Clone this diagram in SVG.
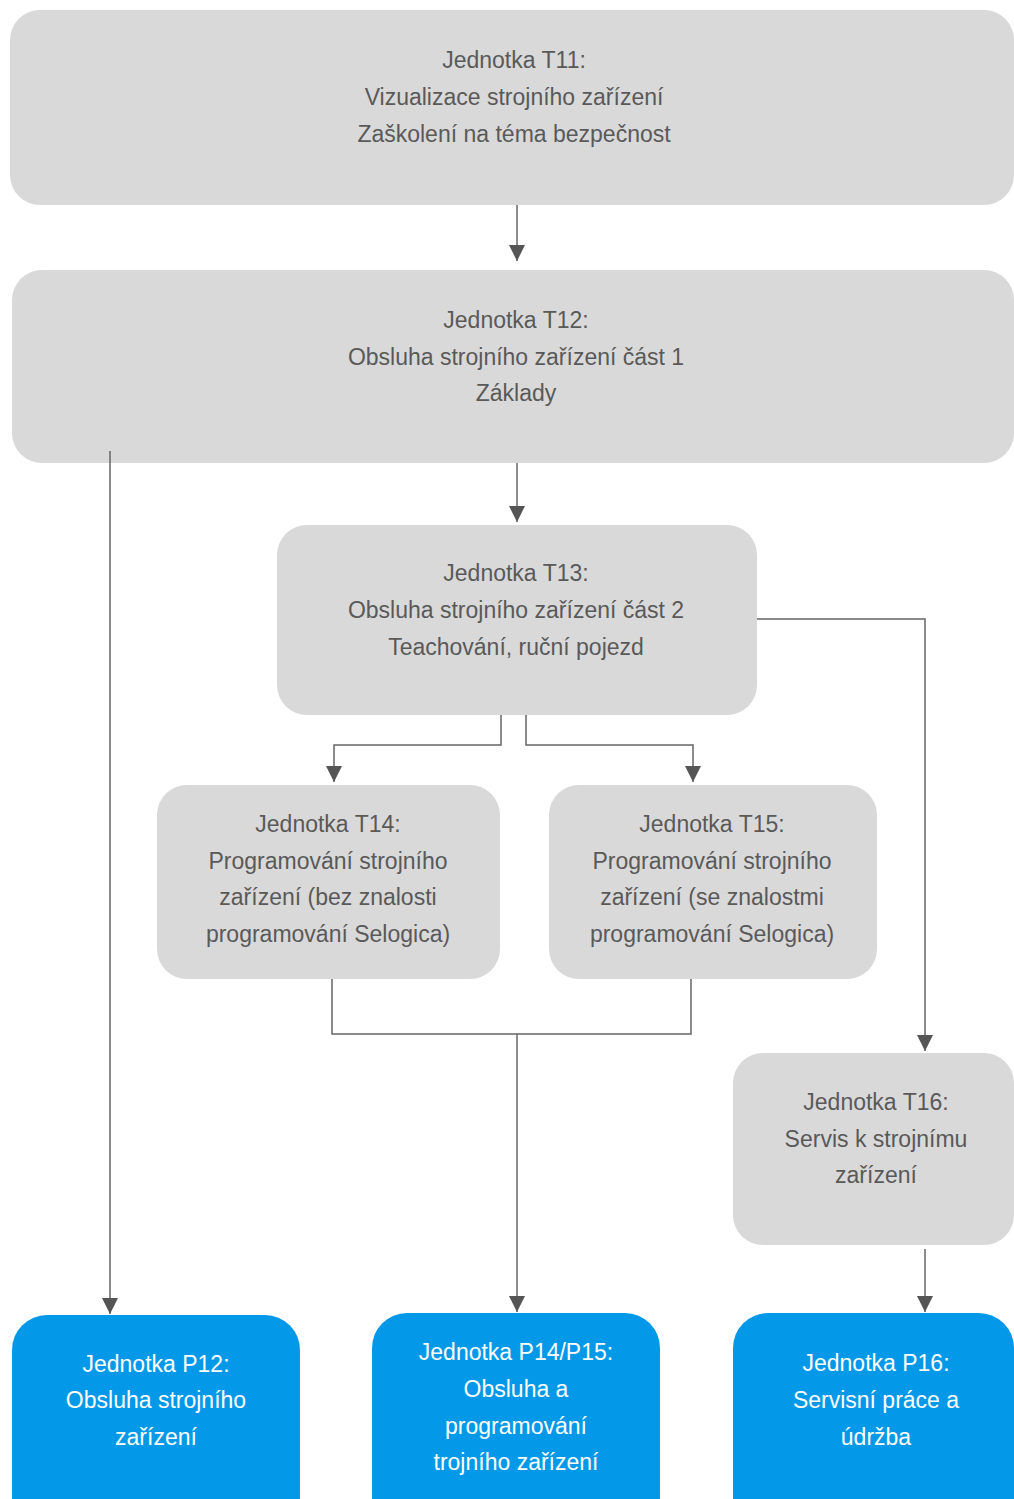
<svg xmlns="http://www.w3.org/2000/svg" width="1014" height="1499" viewBox="0 0 1014 1499">
<defs>
<style>
.g{fill:#d9d9d9}
.b{fill:#0399e8}
.t{font-family:"Liberation Sans",Arial,sans-serif;font-size:23px;text-anchor:middle;fill:#595959}
.w{fill:#ffffff}
.c{fill:none;stroke:#666666;stroke-width:1.5}
</style>
<marker id="ah" viewBox="0 0 16 16" refX="16" refY="8" markerWidth="16" markerHeight="16" markerUnits="userSpaceOnUse" orient="auto">
<path d="M0,0 L16,8 L0,16 z" fill="#555555"/>
</marker>
</defs>
<rect width="1014" height="1499" fill="#ffffff"/>
<g id="T11">
<rect class="g" x="10" y="10" width="1004" height="195" rx="30"/>
<text class="t" x="514" y="68">Jednotka T11:</text>
<text class="t" x="514" y="105">Vizualizace strojního zařízení</text>
<text class="t" x="514" y="142">Zaškolení na téma bezpečnost</text>
</g>
<g id="T12">
<rect class="g" x="12" y="270" width="1002" height="193" rx="30"/>
<text class="t" x="516" y="328">Jednotka T12:</text>
<text class="t" x="516" y="365">Obsluha strojního zařízení část 1</text>
<text class="t" x="516" y="401">Základy</text>
</g>
<g id="T13">
<rect class="g" x="277" y="525" width="480" height="190" rx="30"/>
<text class="t" x="516" y="581">Jednotka T13:</text>
<text class="t" x="516" y="618">Obsluha strojního zařízení část 2</text>
<text class="t" x="516" y="655">Teachování, ruční pojezd</text>
</g>
<g id="T14">
<rect class="g" x="157" y="785" width="343" height="194" rx="30"/>
<text class="t" x="328" y="832">Jednotka T14:</text>
<text class="t" x="328" y="869">Programování strojního</text>
<text class="t" x="328" y="905">zařízení (bez znalosti</text>
<text class="t" x="328" y="942">programování Selogica)</text>
</g>
<g id="T15">
<rect class="g" x="549" y="785" width="328" height="194" rx="30"/>
<text class="t" x="712" y="832">Jednotka T15:</text>
<text class="t" x="712" y="869">Programování strojního</text>
<text class="t" x="712" y="905">zařízení (se znalostmi</text>
<text class="t" x="712" y="942">programování Selogica)</text>
</g>
<g id="T16">
<rect class="g" x="733" y="1053" width="281" height="192" rx="30"/>
<text class="t" x="876" y="1110">Jednotka T16:</text>
<text class="t" x="876" y="1147">Servis k strojnímu</text>
<text class="t" x="876" y="1183">zařízení</text>
</g>
<g id="P12">
<rect class="b" x="12" y="1315" width="288" height="220" rx="35"/>
<text class="t w" x="156" y="1372">Jednotka P12:</text>
<text class="t w" x="156" y="1408">Obsluha strojního</text>
<text class="t w" x="156" y="1445">zařízení</text>
</g>
<g id="P14P15">
<rect class="b" x="372" y="1313" width="288" height="220" rx="35"/>
<text class="t w" x="516" y="1360">Jednotka P14/P15:</text>
<text class="t w" x="516" y="1397">Obsluha a</text>
<text class="t w" x="516" y="1434">programování</text>
<text class="t w" x="516" y="1470">trojního zařízení</text>
</g>
<g id="P16">
<rect class="b" x="733" y="1313" width="281" height="220" rx="35"/>
<text class="t w" x="876" y="1371">Jednotka P16:</text>
<text class="t w" x="876" y="1408">Servisní práce a</text>
<text class="t w" x="876" y="1445">údržba</text>
</g>
<g id="connectors">
<path class="c" d="M517,205 V261" marker-end="url(#ah)"/>
<path class="c" d="M110,451 V1314" marker-end="url(#ah)"/>
<path class="c" d="M517,463 V522" marker-end="url(#ah)"/>
<path class="c" d="M757,619 H925 V1051" marker-end="url(#ah)"/>
<path class="c" d="M501,715 V745 H334 V782" marker-end="url(#ah)"/>
<path class="c" d="M526,715 V745 H693 V782" marker-end="url(#ah)"/>
<path class="c" d="M332,979 V1034 H691 V979"/>
<path class="c" d="M517,1034 V1312" marker-end="url(#ah)"/>
<path class="c" d="M925,1249 V1312" marker-end="url(#ah)"/>
</g>
</svg>
